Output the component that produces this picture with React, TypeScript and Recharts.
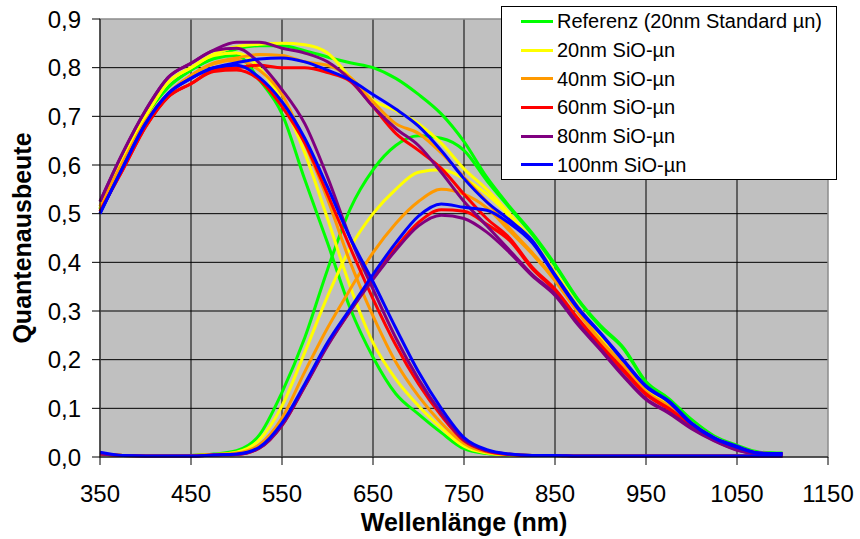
import React from 'react';
import { LineChart, Line, XAxis, YAxis, CartesianGrid, Legend, ReferenceArea } from 'recharts';

// wavelength grid (nm)
const wavelengths = [
  350, 375, 400, 425, 450, 475, 500, 525, 550, 575, 600, 625, 650, 675, 700, 725,
  750, 775, 800, 825, 850, 875, 900, 925, 950, 975, 1000, 1025, 1050, 1075, 1100,
];

const xTicks = [350, 450, 550, 650, 750, 850, 950, 1050, 1150];
const yTicks = [0, 0.1, 0.2, 0.3, 0.4, 0.5, 0.6, 0.7, 0.8, 0.9];

// Referenz (20nm Standard µn)
const refTop = [0.51, 0.61, 0.7, 0.76, 0.795, 0.818, 0.825, 0.775, 0.705, 0.57, 0.44, 0.305, 0.205, 0.13, 0.088, 0.05, 0.017, 0.007, 0.004, 0.003, 0.003, 0.002, 0.002, 0.002, 0.002, 0.002, 0.002, 0.002, 0.002, 0.002, 0.002];
const refBottom = [0.006, 0.003, 0.002, 0.002, 0.003, 0.006, 0.013, 0.045, 0.133, 0.245, 0.385, 0.51, 0.59, 0.64, 0.66, 0.655, 0.63, 0.568, 0.512, 0.457, 0.393, 0.323, 0.267, 0.223, 0.153, 0.118, 0.075, 0.041, 0.022, 0.009, 0.007];
const refTotal = [0.51, 0.61, 0.7, 0.76, 0.795, 0.82, 0.838, 0.845, 0.845, 0.835, 0.822, 0.81, 0.8, 0.778, 0.745, 0.705, 0.648, 0.575, 0.515, 0.46, 0.396, 0.325, 0.27, 0.225, 0.155, 0.12, 0.077, 0.043, 0.024, 0.01, 0.008];

// 20nm SiO-µn
const sio20Top = [0.51, 0.615, 0.7, 0.77, 0.8, 0.825, 0.83, 0.8, 0.73, 0.625, 0.49, 0.35, 0.235, 0.16, 0.105, 0.06, 0.022, 0.008, 0.004, 0.003, 0.003, 0.002, 0.002, 0.002, 0.002, 0.002, 0.002, 0.002, 0.002, 0.002, 0.002];
const sio20Bottom = [0.006, 0.003, 0.002, 0.002, 0.003, 0.005, 0.01, 0.035, 0.105, 0.215, 0.33, 0.43, 0.5, 0.55, 0.585, 0.59, 0.572, 0.54, 0.495, 0.442, 0.378, 0.308, 0.248, 0.198, 0.138, 0.108, 0.068, 0.039, 0.02, 0.008, 0.007];
const sio20Total = [0.51, 0.615, 0.7, 0.77, 0.8, 0.828, 0.843, 0.848, 0.85, 0.847, 0.83, 0.78, 0.733, 0.712, 0.685, 0.645, 0.592, 0.55, 0.5, 0.445, 0.38, 0.31, 0.25, 0.2, 0.14, 0.11, 0.07, 0.04, 0.021, 0.008, 0.007];

// 40nm SiO-µn
const sio40Top = [0.515, 0.605, 0.69, 0.747, 0.784, 0.808, 0.815, 0.795, 0.745, 0.645, 0.53, 0.4, 0.29, 0.195, 0.125, 0.07, 0.028, 0.01, 0.005, 0.003, 0.003, 0.002, 0.002, 0.002, 0.002, 0.002, 0.002, 0.002, 0.002, 0.002, 0.002];
const sio40Bottom = [0.006, 0.003, 0.002, 0.002, 0.003, 0.005, 0.008, 0.025, 0.08, 0.175, 0.265, 0.345, 0.42, 0.48, 0.525, 0.55, 0.54, 0.512, 0.465, 0.417, 0.362, 0.298, 0.238, 0.188, 0.133, 0.103, 0.066, 0.037, 0.018, 0.008, 0.007];
const sio40Total = [0.515, 0.605, 0.69, 0.747, 0.784, 0.81, 0.82, 0.827, 0.825, 0.812, 0.805, 0.78, 0.73, 0.685, 0.665, 0.625, 0.575, 0.525, 0.47, 0.42, 0.365, 0.3, 0.24, 0.19, 0.135, 0.105, 0.068, 0.038, 0.019, 0.008, 0.007];

// 60nm SiO-µn
const sio60Top = [0.505, 0.59, 0.678, 0.74, 0.767, 0.792, 0.795, 0.775, 0.72, 0.645, 0.54, 0.43, 0.325, 0.23, 0.15, 0.085, 0.033, 0.012, 0.005, 0.003, 0.003, 0.002, 0.002, 0.002, 0.002, 0.002, 0.002, 0.002, 0.002, 0.002, 0.002];
const sio60Bottom = [0.006, 0.003, 0.002, 0.002, 0.002, 0.004, 0.005, 0.018, 0.065, 0.145, 0.23, 0.3, 0.37, 0.43, 0.482, 0.508, 0.505, 0.478, 0.445, 0.387, 0.342, 0.282, 0.227, 0.177, 0.128, 0.098, 0.063, 0.035, 0.016, 0.007, 0.006];
const sio60Total = [0.505, 0.59, 0.678, 0.74, 0.767, 0.795, 0.8, 0.805, 0.8, 0.8, 0.79, 0.772, 0.72, 0.665, 0.63, 0.593, 0.54, 0.49, 0.45, 0.39, 0.345, 0.285, 0.23, 0.18, 0.13, 0.1, 0.065, 0.037, 0.017, 0.007, 0.006];

// 80nm SiO-µn
const sio80Top = [0.525, 0.625, 0.712, 0.78, 0.809, 0.835, 0.84, 0.81, 0.755, 0.685, 0.575, 0.45, 0.345, 0.245, 0.16, 0.09, 0.035, 0.013, 0.006, 0.003, 0.003, 0.002, 0.002, 0.002, 0.002, 0.002, 0.002, 0.002, 0.002, 0.002, 0.002];
const sio80Bottom = [0.006, 0.003, 0.002, 0.002, 0.002, 0.004, 0.005, 0.018, 0.065, 0.145, 0.228, 0.3, 0.365, 0.425, 0.475, 0.497, 0.49, 0.462, 0.42, 0.372, 0.332, 0.272, 0.22, 0.166, 0.118, 0.09, 0.058, 0.033, 0.014, 0.006, 0.005];
const sio80Total = [0.525, 0.625, 0.712, 0.78, 0.809, 0.836, 0.852, 0.852, 0.84, 0.83, 0.812, 0.775, 0.72, 0.675, 0.64, 0.585, 0.525, 0.475, 0.425, 0.375, 0.335, 0.275, 0.222, 0.168, 0.12, 0.092, 0.06, 0.034, 0.015, 0.006, 0.005];

// 100nm SiO-µn
const sio100Top = [0.5, 0.595, 0.685, 0.747, 0.778, 0.8, 0.805, 0.78, 0.73, 0.655, 0.555, 0.45, 0.36, 0.265, 0.175, 0.1, 0.04, 0.015, 0.006, 0.003, 0.003, 0.002, 0.002, 0.002, 0.002, 0.002, 0.002, 0.002, 0.002, 0.002, 0.002];
const sio100Bottom = [0.01, 0.003, 0.002, 0.002, 0.002, 0.004, 0.006, 0.02, 0.07, 0.15, 0.235, 0.305, 0.375, 0.44, 0.495, 0.52, 0.513, 0.507, 0.48, 0.44, 0.372, 0.305, 0.253, 0.198, 0.144, 0.113, 0.068, 0.038, 0.02, 0.008, 0.007];
const sio100Total = [0.5, 0.595, 0.685, 0.747, 0.778, 0.8, 0.81, 0.818, 0.82, 0.812, 0.795, 0.775, 0.745, 0.715, 0.68, 0.63, 0.572, 0.524, 0.487, 0.445, 0.375, 0.308, 0.255, 0.2, 0.146, 0.115, 0.07, 0.04, 0.022, 0.008, 0.007];

const series = [
  { key: 'ref', name: 'Referenz (20nm Standard µn)', color: '#00FF00', top: refTop, bottom: refBottom, total: refTotal },
  { key: 's20', name: '20nm SiO-µn', color: '#FFFF00', top: sio20Top, bottom: sio20Bottom, total: sio20Total },
  { key: 's40', name: '40nm SiO-µn', color: '#FF9900', top: sio40Top, bottom: sio40Bottom, total: sio40Total },
  { key: 's60', name: '60nm SiO-µn', color: '#FF0000', top: sio60Top, bottom: sio60Bottom, total: sio60Total },
  { key: 's80', name: '80nm SiO-µn', color: '#800080', top: sio80Top, bottom: sio80Bottom, total: sio80Total },
  { key: 's100', name: '100nm SiO-µn', color: '#0000FF', top: sio100Top, bottom: sio100Bottom, total: sio100Total },
];

const data = wavelengths.map((w, i) => {
  const row: Record<string, number> = { w };
  series.forEach((s) => {
    row[s.key + 'Top'] = s.top[i];
    row[s.key + 'Bottom'] = s.bottom[i];
    row[s.key + 'Total'] = s.total[i];
  });
  return row;
});

const FONT = '"Liberation Sans", Arial, sans-serif';

const LegendBox = () => (
  <div
    style={{
      width: 336,
      height: 174,
      boxSizing: 'border-box',
      background: '#fff',
      border: '1px solid #000',
      fontFamily: FONT,
      fontSize: 20,
      lineHeight: '22px',
      color: '#000',
    }}
  >
    {series.map((s) => (
      <div key={s.key} style={{ height: 28.7, display: 'flex', alignItems: 'center' }}>
        <div style={{ width: 32, height: 3, background: s.color, marginLeft: 19, marginRight: 4 }} />
        <span style={{ whiteSpace: 'nowrap' }}>{s.name}</span>
      </div>
    ))}
  </div>
);

export default function App() {
  return (
    <div style={{ position: 'absolute', left: 0, top: 0, width: 860, height: 539, background: '#fff' }}>
      <LineChart width={860} height={539} data={data} margin={{ top: 19, right: 32, left: 0, bottom: 8 }}>
        <CartesianGrid
          stroke="#000"
          fill="#C0C0C0"
          fillOpacity={1}
          horizontalValues={[0.1, 0.2, 0.3, 0.4, 0.5, 0.6, 0.7, 0.8]}
          verticalValues={[450, 550, 650, 750, 850, 950, 1050]}
        />
        <ReferenceArea x1={350} x2={1150} y1={0} y2={0.9} fill="none" stroke="#8c8c8c" strokeWidth={1.5} />
        <XAxis
          dataKey="w"
          type="number"
          domain={[350, 1150]}
          ticks={xTicks}
          interval={0}
          height={74}
          tickSize={8}
          tickMargin={20}
          stroke="#000"
          tick={{ fill: '#000', fontSize: 24, fontFamily: FONT }}
          label={{
            value: 'Wellenlänge (nm)',
            position: 'insideBottom',
            offset: 0,
            style: { fill: '#000', fontSize: 25, fontWeight: 'bold', fontFamily: FONT },
          }}
        />
        <YAxis
          type="number"
          domain={[0, 0.9]}
          ticks={yTicks}
          interval={0}
          width={100}
          tickSize={8}
          tickMargin={11}
          stroke="#000"
          tick={{ fill: '#000', fontSize: 24, fontFamily: FONT }}
          tickFormatter={(v: number) => v.toFixed(1).replace('.', ',')}
          label={{
            value: 'Quantenausbeute',
            angle: -90,
            position: 'insideLeft',
            offset: 22,
            style: { fill: '#000', fontSize: 25, fontWeight: 'bold', fontFamily: FONT, textAnchor: 'middle' },
          }}
        />
        <Legend
          layout="vertical"
          align="center"
          verticalAlign="middle"
          wrapperStyle={{ left: 501, top: 6, width: 336, height: 174 }}
          content={() => <LegendBox />}
        />
        {series.flatMap((s) => [
          <Line key={s.key + 'Top'} dataKey={s.key + 'Top'} name={s.name} type="monotone" stroke={s.color} strokeWidth={3} dot={false} activeDot={false} isAnimationActive={false} legendType="none" />,
          <Line key={s.key + 'Bottom'} dataKey={s.key + 'Bottom'} name={s.name} type="monotone" stroke={s.color} strokeWidth={3} dot={false} activeDot={false} isAnimationActive={false} legendType="none" />,
          <Line key={s.key + 'Total'} dataKey={s.key + 'Total'} name={s.name} type="monotone" stroke={s.color} strokeWidth={3} dot={false} activeDot={false} isAnimationActive={false} />,
        ])}
      </LineChart>
    </div>
  );
}
